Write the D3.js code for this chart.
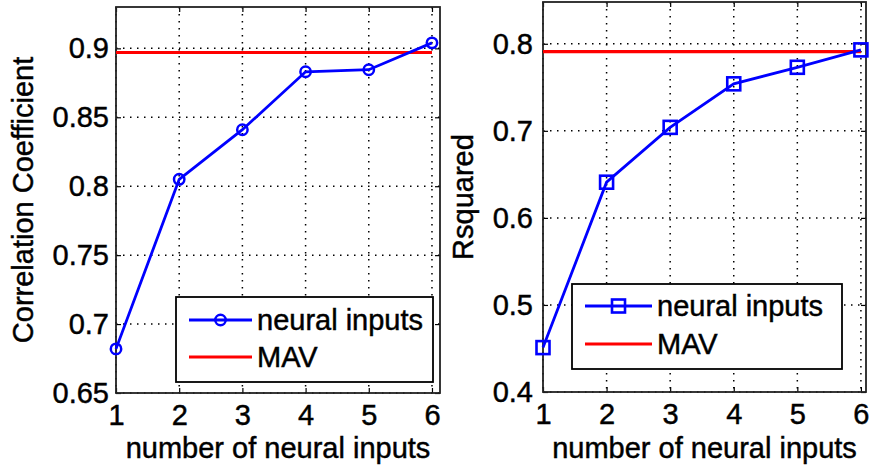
<!DOCTYPE html>
<html>
<head>
<meta charset="utf-8">
<script src="https://cdn.jsdelivr.net/npm/d3@7"></script>
<style>
  html, body { margin: 0; padding: 0; background: #fff; }
  svg { display: block; }
  text { font-family: "Liberation Sans", Arial, sans-serif; fill: #000; stroke: #000; stroke-width: 0.45px; }
</style>
</head>
<body>
<svg id="chart" width="869" height="468"></svg>
<script>
// ---- data ----
const inputs = [1, 2, 3, 4, 5, 6];
const corrNeural = [0.682, 0.805, 0.841, 0.883, 0.8845, 0.904];
const corrMAV = 0.897;
const rsqNeural = [0.451, 0.641, 0.704, 0.754, 0.773, 0.793];
const rsqMAV = 0.791;
const xTicks = [1, 2, 3, 4, 5, 6];
const corrTicks = [0.65, 0.7, 0.75, 0.8, 0.85, 0.9];
const corrTickLabels = ["0.65", "0.7", "0.75", "0.8", "0.85", "0.9"];
const rsqTicks = [0.4, 0.5, 0.6, 0.7, 0.8];
const rsqTickLabels = ["0.4", "0.5", "0.6", "0.7", "0.8"];
const legendLabels = ["neural inputs", "MAV"];
const xLabel = "number of neural inputs";

const svg = d3.select("#chart");
const FS = 29;

function panel(cfg) {
  const g = svg.append("g");
  const x = d3.scaleLinear().domain(cfg.xDomain).range([cfg.left, cfg.right]);
  const y = d3.scaleLinear().domain(cfg.yDomain).range([cfg.bottom, cfg.top]);

  // grid
  const grid = g.append("g").attr("stroke", "#000").attr("stroke-width", 1.5)
    .attr("stroke-dasharray", "1.5,5.5").attr("fill", "none");
  cfg.xTicks.forEach(t => {
    grid.append("line").attr("x1", x(t)).attr("x2", x(t)).attr("y1", cfg.top).attr("y2", cfg.bottom);
  });
  cfg.yTicks.forEach(t => {
    grid.append("line").attr("x1", cfg.left).attr("x2", cfg.right).attr("y1", y(t)).attr("y2", y(t));
  });

  // axes with inward ticks
  const axB = d3.axisBottom(x).tickValues(cfg.xTicks).tickSizeInner(-5).tickSizeOuter(0).tickPadding(11).tickFormat(d3.format("d"));
  const axT = d3.axisTop(x).tickValues(cfg.xTicks).tickSizeInner(-5).tickSizeOuter(0).tickFormat("");
  const axL = d3.axisLeft(y).tickValues(cfg.yTicks).tickSizeInner(-5).tickSizeOuter(0).tickPadding(cfg.yPad)
    .tickFormat((d, i) => cfg.yTickLabels[i]);
  const axR = d3.axisRight(y).tickValues(cfg.yTicks).tickSizeInner(-5).tickSizeOuter(0).tickFormat("");

  const gb = g.append("g").attr("transform", `translate(0,${cfg.bottom})`).call(axB);
  const gt = g.append("g").attr("transform", `translate(0,${cfg.top})`).call(axT);
  const gl = g.append("g").attr("transform", `translate(${cfg.left},0)`).call(axL);
  const gr = g.append("g").attr("transform", `translate(${cfg.right},0)`).call(axR);
  [gb, gt, gl, gr].forEach(a => {
    a.select(".domain").remove();
    a.selectAll(".tick line").attr("stroke", "#000").attr("stroke-width", 1.2);
    a.selectAll("text").attr("font-size", FS).attr("fill", "#000")
      .style("font-family", '"Liberation Sans", Arial, sans-serif');
  });
  gb.selectAll(".tick text").attr("dy", "0.72em");
  // box
  g.append("rect").attr("x", cfg.left).attr("y", cfg.top)
    .attr("width", cfg.right - cfg.left).attr("height", cfg.bottom - cfg.top)
    .attr("fill", "none").attr("stroke", "#222").attr("stroke-width", 1.8);

  // MAV line
  g.append("line").attr("x1", x(1)).attr("x2", x(6))
    .attr("y1", y(cfg.mav)).attr("y2", y(cfg.mav))
    .attr("stroke", "#ff0000").attr("stroke-width", 3.2);

  // neural line
  const line = d3.line().x((d, i) => x(inputs[i])).y(d => y(d));
  g.append("path").datum(cfg.values).attr("d", line)
    .attr("fill", "none").attr("stroke", "#0000ff").attr("stroke-width", 2.8);
  const mk = g.append("g");
  cfg.values.forEach((v, i) => drawMarker(mk, cfg.marker, x(inputs[i]), y(v)));

  // axis labels
  g.append("text").attr("x", (cfg.left + cfg.right) / 2).attr("y", cfg.xLabelY)
    .attr("text-anchor", "middle").attr("font-size", FS).text(xLabel);
  g.append("text")
    .attr("transform", `translate(${cfg.yLabelX},${(cfg.top + cfg.bottom) / 2}) rotate(-90)`)
    .attr("text-anchor", "middle").attr("font-size", FS).text(cfg.yLabel);

  // legend
  const L = cfg.legend;
  g.append("rect").attr("x", L.x).attr("y", L.y).attr("width", L.w).attr("height", L.h)
    .attr("fill", "#fff").attr("stroke", "#000").attr("stroke-width", 1.8);
  g.append("line").attr("x1", L.lx1).attr("x2", L.lx2).attr("y1", L.r1).attr("y2", L.r1)
    .attr("stroke", "#0000ff").attr("stroke-width", 2.8);
  drawMarker(g, cfg.marker, (L.lx1 + L.lx2) / 2, L.r1);
  g.append("line").attr("x1", L.lx1).attr("x2", L.lx2).attr("y1", L.r2).attr("y2", L.r2)
    .attr("stroke", "#ff0000").attr("stroke-width", 2.8);
  g.append("text").attr("x", L.tx).attr("y", L.r1).attr("dy", "0.35em").attr("font-size", FS).text(legendLabels[0]);
  g.append("text").attr("x", L.tx).attr("y", L.r2).attr("dy", "0.35em").attr("font-size", FS).text(legendLabels[1]);
}

function drawMarker(g, type, cx, cy) {
  if (type === "circle") {
    g.append("circle").attr("cx", cx).attr("cy", cy).attr("r", 5.2)
      .attr("fill", "none").attr("stroke", "#0000ff").attr("stroke-width", 2.5);
  } else {
    g.append("rect").attr("x", cx - 6.5).attr("y", cy - 6.5).attr("width", 13).attr("height", 13)
      .attr("fill", "none").attr("stroke", "#0000ff").attr("stroke-width", 2.6);
  }
}

panel({
  left: 116, right: 440, top: 7, bottom: 393,
  xDomain: [1, 6.127], yDomain: [0.65, 0.93],
  xTicks: xTicks, yTicks: corrTicks, yTickLabels: corrTickLabels, yPad: 7,
  values: corrNeural, mav: corrMAV, marker: "circle",
  yLabel: "Correlation Coefficient", yLabelX: 33, xLabelY: 458,
  legend: { x: 176, y: 297, w: 257, h: 85, lx1: 189, lx2: 252, tx: 257, r1: 320, r2: 357 }
});

panel({
  left: 543, right: 866, top: 2, bottom: 392,
  xDomain: [1, 6.08], yDomain: [0.4, 0.848],
  xTicks: xTicks, yTicks: rsqTicks, yTickLabels: rsqTickLabels, yPad: 10,
  values: rsqNeural, mav: rsqMAV, marker: "square",
  yLabel: "Rsquared", yLabelX: 473, xLabelY: 458,
  legend: { x: 572, y: 284, w: 270, h: 85, lx1: 585, lx2: 652, tx: 657, r1: 306, r2: 344 }
});
</script>
</body>
</html>
